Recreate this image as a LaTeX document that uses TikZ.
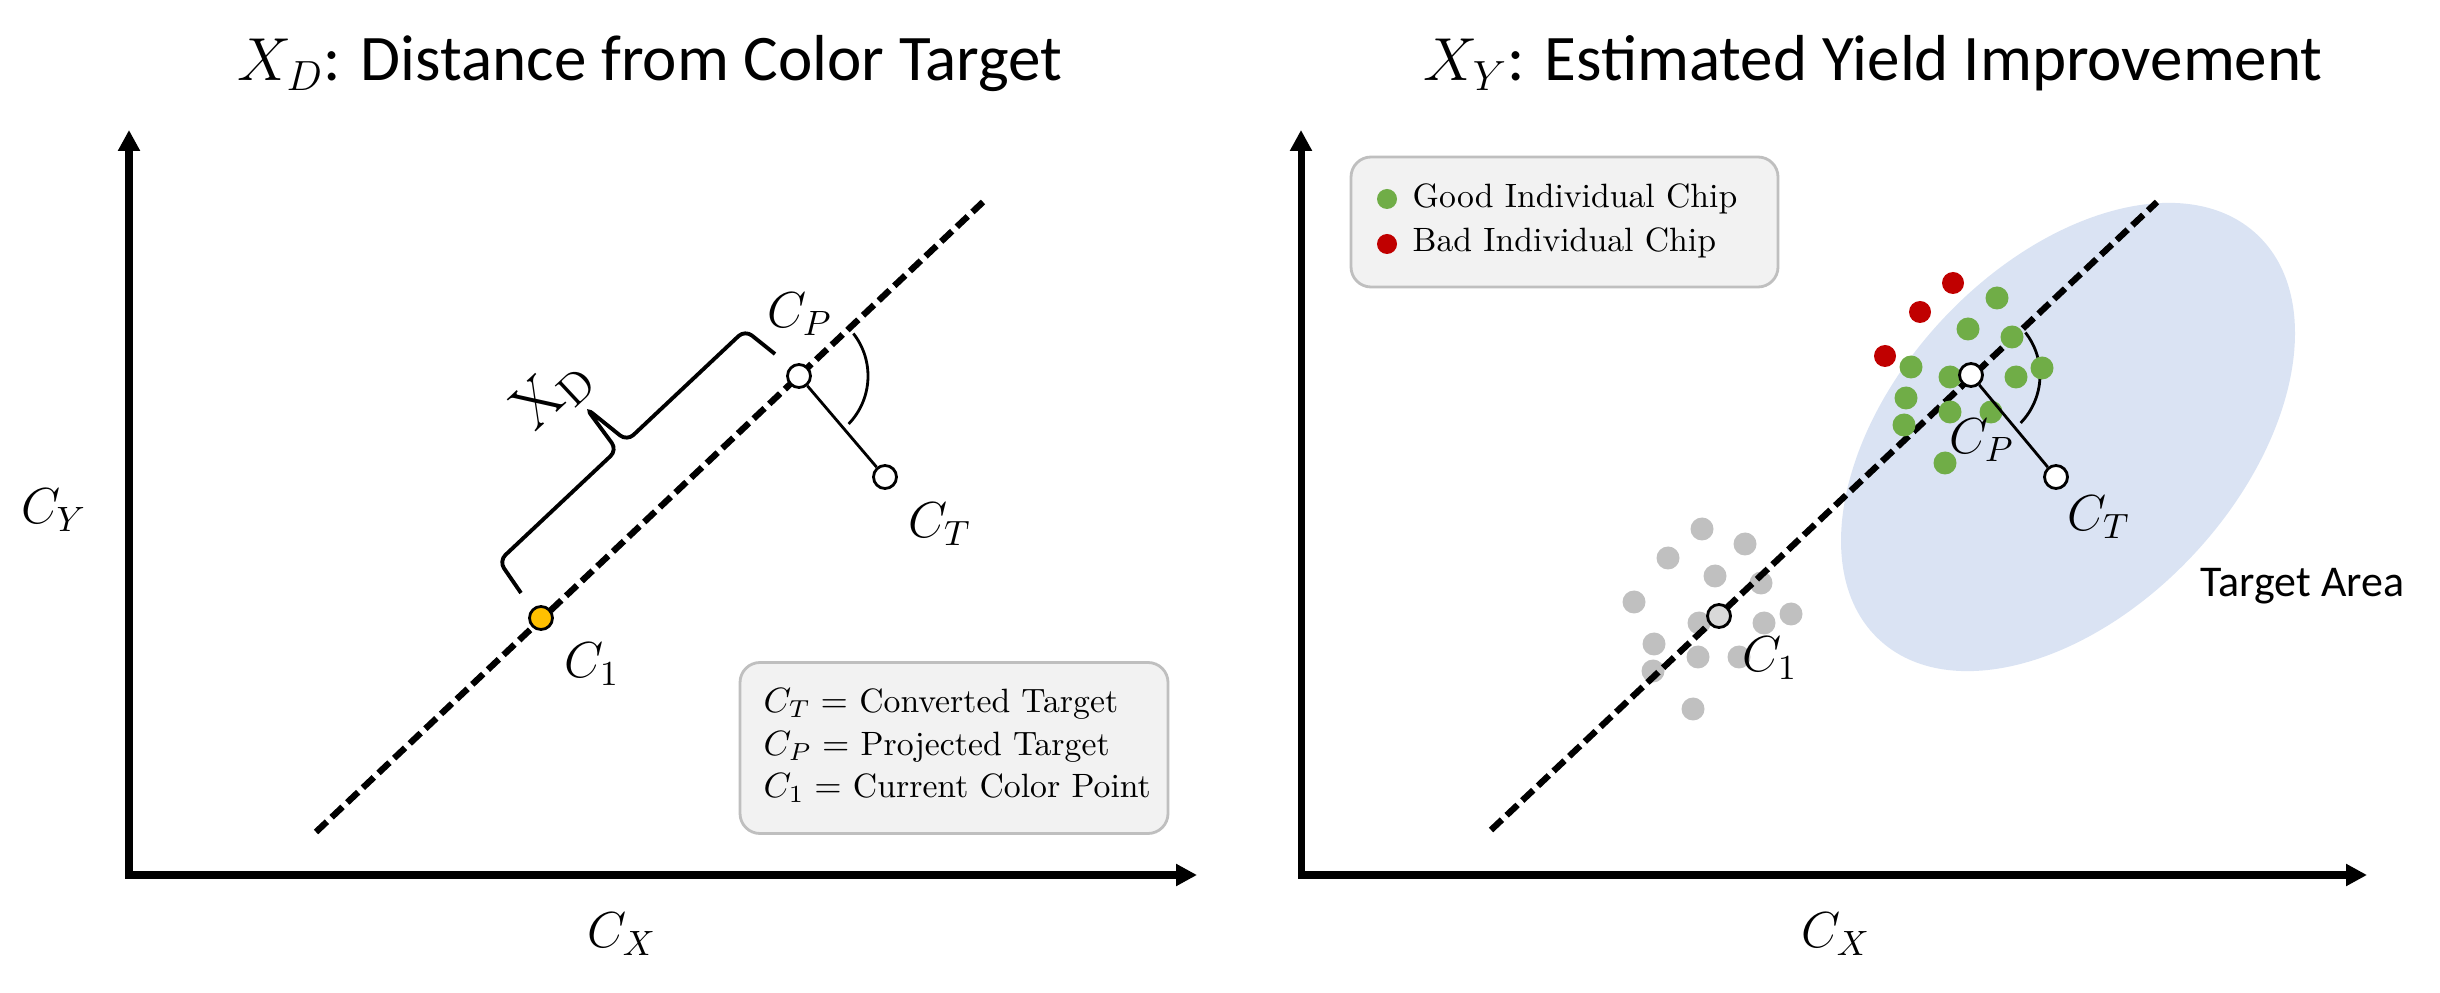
\documentclass[tikz,border=0pt]{standalone}
\usepackage{fontspec}
\newfontfamily\calibri{Carlito}
\usetikzlibrary{arrows.meta,calc}
\definecolor{legfill}{HTML}{F2F2F2}
\definecolor{legdraw}{HTML}{BFBFBF}
\definecolor{orangept}{HTML}{FFC000}
\definecolor{goodc}{HTML}{70AD47}
\definecolor{badc}{HTML}{C00000}
\definecolor{grayc}{HTML}{C0C0C0}
\definecolor{ellc}{HTML}{DAE3F3}
\definecolor{cgray}{HTML}{D9D9D9}
\begin{document}
\begin{tikzpicture}[x=0.1mm,y=-0.1mm,
  axisline/.style={line width=2pt,{Triangle[length=2.1mm,width=2.1mm]}-{Triangle[length=2.1mm,width=2.1mm]}},
  dline/.style={line width=1.8pt, dash pattern=on 1.5mm off 0.65mm},
  pt/.style={circle, draw=black, line width=0.8pt, inner sep=0pt, minimum size=2.3mm},
  legbox/.style={draw=legdraw, fill=legfill, line width=0.8pt, rounded corners=2mm},
  lab/.style={font=\fontsize{14}{16}\selectfont, inner sep=0pt},
  ttl/.style={font=\calibri\fontsize{18.5}{22}\selectfont, inner sep=0pt, anchor=base},
  thinl/.style={line width=0.8pt},
  legtxt/.style={font=\fontsize{9.6}{12}\selectfont, inner sep=0pt, anchor=base west}
]
\useasboundingbox (0,0) rectangle (2440,993);

% ================= LEFT PANEL =================
\node[ttl] (t1) at (650,81) {$X_D$: Distance from Color Target};
\coordinate (o1) at (129,875);
\coordinate (yt1) at (129,130);
\coordinate (xr1) at (1197,875);
\draw[axisline] (yt1) -- (o1) -- (xr1);
\node[lab] (cy1) at (54,510) {$C_Y$};
\node[lab] (cx1) at (622,934) {$C_X$};

\coordinate (la1) at (316,832);
\coordinate (lb1) at (983,202);
\draw[dline] (la1) -- (lb1);

% brace
\draw[line width=1.1pt, rounded corners=2.5pt]
  (521,593) -- (499,561) -- (617,450) -- (586,408) -- (627,441) -- (745,330) -- (775,354);
\node[font=\fontsize{18}{20}\selectfont, rotate=43, inner sep=0pt] (xd) at (553,393) {$\mathrm{X}_\mathrm{D}$};

\node[pt, fill=orangept] (c1L) at (541,618) {};
\node[pt, fill=white] (cpL) at (799,376) {};
\node[pt, fill=white] (ctL) at (885,477) {};
\draw[thinl] (cpL) -- (ctL);
\draw[thinl] ([shift={(38:6.9mm)}]cpL.center) arc[start angle=38, end angle=-44, radius=6.9mm];

\node[lab] (lc1L) at (592,664) {$C_1$};
\node[lab] (lcpL) at (800,314) {$C_P$};
\node[lab] (lctL) at (940,524) {$C_T$};

\node[legbox, minimum width=42.8mm, minimum height=17.1mm] (leg1) at (954,748) {};
\node[legtxt] (lg1a) at (763,712) {$C_T =$ Converted Target};
\node[legtxt] (lg1b) at (763,755) {$C_P =$ Projected Target};
\node[legtxt] (lg1c) at (763,797) {$C_1 =$ Current Color Point};

% ================= RIGHT PANEL =================
\node[ttl] (t2) at (1873,81) {$X_Y$: Estimated Yield Improvement};
\fill[ellc, rotate around={47:(2068,437)}] (2068,437) ellipse[x radius=277, y radius=172];
\coordinate (o2) at (1301,875);
\coordinate (yt2) at (1301,130);
\coordinate (xr2) at (2367,875);
\draw[axisline] (yt2) -- (o2) -- (xr2);
\node[lab] (cx2) at (1836,934) {$C_X$};
\node[font=\calibri\fontsize{12.5}{14}\selectfont, inner sep=0pt, anchor=base west] (ta) at (2200,597) {Target Area};

% gray chips
\foreach \x/\y in {1702/529,1745/544,1668/558,1715/576,1761/583,1634/602,1791/614,1699/623,1764/623,1654/644,1698/657,1739/657,1653/671,1693/709}
  \fill[grayc] (\x,\y) circle[radius=1.15mm];

\coordinate (la2) at (1491,830);
\coordinate (lb2) at (2157,202);
\draw[dline] (la2) -- (lb2);

\coordinate (cpR0) at (1971,375);
\draw[thinl] ([shift={(38:6.9mm)}]cpR0) arc[start angle=38, end angle=-44, radius=6.9mm];

% green & red chips
\foreach \x/\y in {1997/298,1968/329,2012/337,1911/367,1950/377,2016/377,2042/368,1906/398,1950/412,1991/412,1904/425,1945/463}
  \fill[goodc] (\x,\y) circle[radius=1.15mm];
\foreach \x/\y in {1953/283,1920/312,1885/356}
  \fill[badc] (\x,\y) circle[radius=1.1mm];

\node[pt, fill=cgray] (c1R) at (1719,616) {};
\node[pt, fill=white] (cpR) at (cpR0) {};
\node[pt, fill=white] (ctR) at (2056,477) {};
\draw[thinl] (cpR) -- (ctR);

\node[lab] (lc1R) at (1770,658) {$C_1$};
\node[lab] (lcpR) at (1982,440) {$C_P$};
\node[lab] (lctR) at (2099,517) {$C_T$};

% legend right
\node[legbox, minimum width=42.7mm, minimum height=13mm] (leg2) at (1564.5,222) {};
\node[circle, fill=goodc, inner sep=0pt, minimum size=2mm] (gd) at (1387,199) {};
\node[circle, fill=badc, inner sep=0pt, minimum size=2mm] (bd) at (1387,244) {};
\node[legtxt] (gt) at (1412,208) {Good Individual Chip};
\node[legtxt] (bt) at (1412,252) {Bad Individual Chip};
\end{tikzpicture}
\end{document}
